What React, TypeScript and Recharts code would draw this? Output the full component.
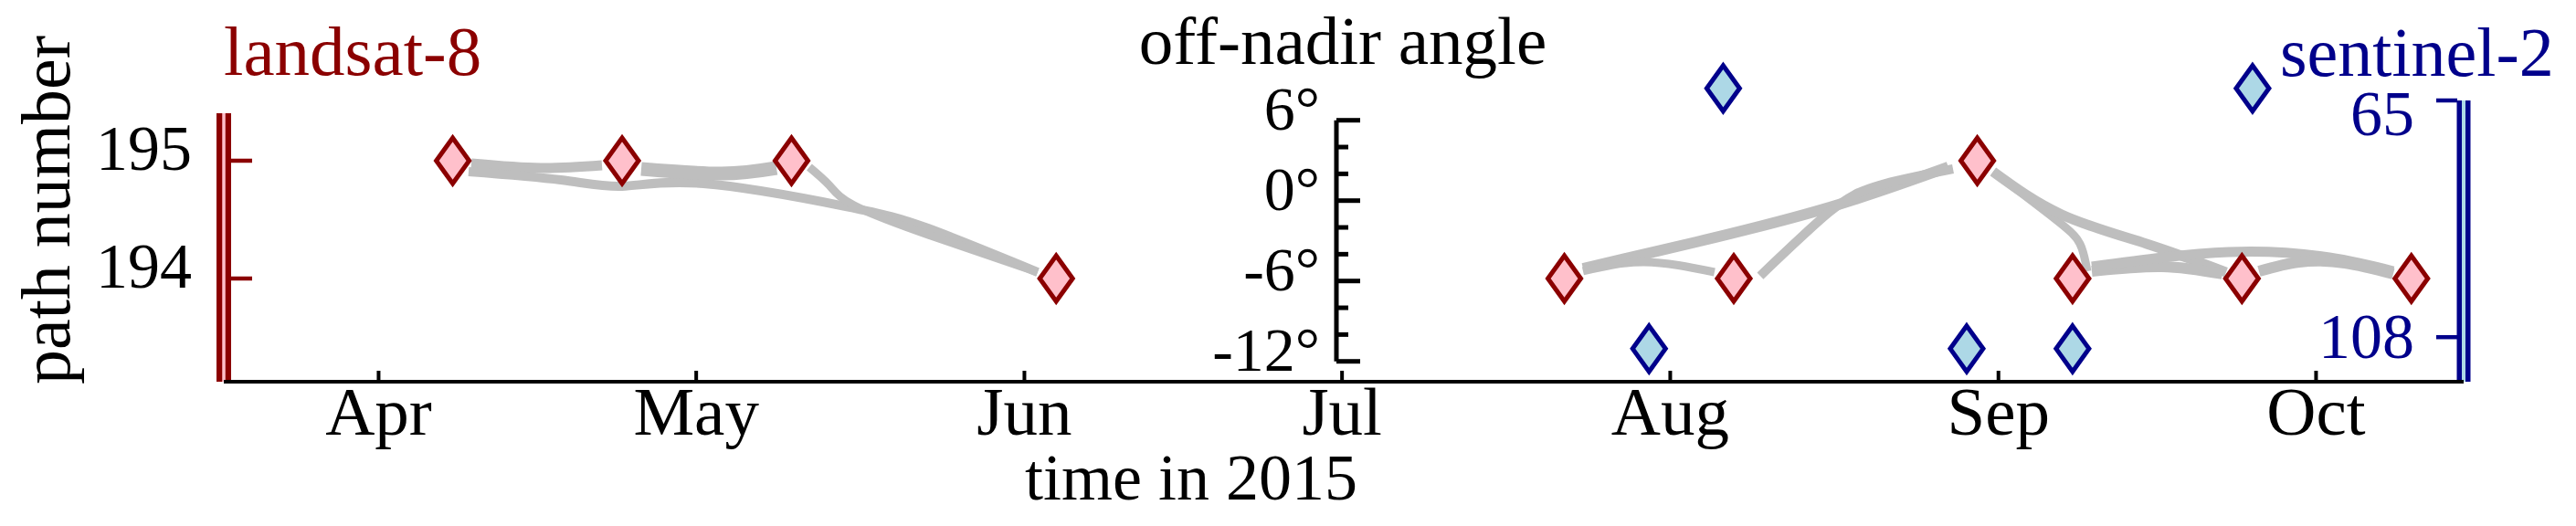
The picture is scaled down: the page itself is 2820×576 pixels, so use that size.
import React from 'react';
import { ComposedChart, Line, Scatter, XAxis, YAxis, ReferenceLine } from 'recharts';

const FONT = '"Liberation Serif", "Times New Roman", serif';
const DARK_RED = '#8b0000';
const PINK = '#ffc0cb';
const NAVY = '#00008b';
const LIGHT_BLUE = '#add8e6';
const GRAY = '#bebebe';

// days are counted from 1 April 2015
const ORIGIN = Date.UTC(2015, 3, 1);
const toDay = (s: string) => (Date.parse(s + 'T00:00:00Z') - ORIGIN) / 86400000;

const monthLabels = ['Apr', 'May', 'Jun', 'Jul', 'Aug', 'Sep', 'Oct'];
const monthStarts = ['2015-04-01', '2015-05-01', '2015-06-01', '2015-07-01', '2015-08-01', '2015-09-01', '2015-10-01'];
const xDomain: [number, number] = [-14.62, 196.94];

// landsat-8 acquisitions (path number)
const landsatDates = [
  '2015-04-08', '2015-04-24', '2015-05-10', '2015-06-04', '2015-07-22',
  '2015-08-07', '2015-08-30', '2015-09-08', '2015-09-24', '2015-10-10',
];
const landsatPath = [195, 195, 195, 194, 194, 194, 195, 194, 194, 194];

// sentinel-2 acquisitions (position on the orbit axis, as drawn)
const sentinelDates = ['2015-07-30', '2015-08-06', '2015-08-29', '2015-09-08', '2015-09-25'];
const sentinelOrbit = [110.1, 62.8, 110.1, 110.1, 62.8];

const pathTicks = [195, 194];
const pathDomain: [number, number] = [193.124, 195.899];
const orbitTicks = [65, 108];
const orbitDomain: [number, number] = [56.705, 116.096];
const angleTicks = [6, 4, 2, 0, -2, -4, -6, -8, -10, -12];
const angleDomain: [number, number] = [-12, 6];

// gray links between acquisitions: [day, path] points along each curve, with stroke width
const links: { w: number; pts: number[][] }[] = [
  { w: 11, pts: [[8.76, 194.977], [15.31, 194.938], [21.1, 194.961]] },
  { w: 10, pts: [[8.5, 194.907], [17.21, 194.837], [23.0, 194.783], [30.67, 194.806], [44.13, 194.612], [51.9, 194.426], [62.25, 194.054]] },
  { w: 15, pts: [[24.81, 194.93], [32.4, 194.891], [37.58, 194.938]] },
  { w: 9, pts: [[40.68, 194.946], [42.58, 194.791], [44.91, 194.62], [51.9, 194.372], [62.25, 194.054]] },
  { w: 12, pts: [[113.76, 194.085], [124.46, 194.31], [137.06, 194.605], [148.27, 194.946]] },
  { w: 9, pts: [[113.76, 194.062], [119.54, 194.14], [126.18, 194.054]] },
  { w: 10, pts: [[130.5, 194.023], [137.06, 194.566], [141.72, 194.791], [148.71, 194.93]] },
  { w: 9, pts: [[152.5, 194.907], [158.37, 194.504], [160.7, 194.295], [161.39, 194.062]] },
  { w: 11, pts: [[152.5, 194.907], [158.97, 194.543], [166.99, 194.295], [174.5, 194.054]] },
  { w: 12, pts: [[161.82, 194.062], [168.46, 194.101], [174.15, 194.039]] },
  { w: 11, pts: [[161.82, 194.101], [174.76, 194.225], [184.25, 194.178], [190.29, 194.062]] },
  { w: 12, pts: [[177.61, 194.062], [181.41, 194.14], [185.72, 194.132], [190.29, 194.039]] },
];

const landsatData = landsatDates.map((d, i) => ({ t: toDay(d), v: landsatPath[i] }));
const sentinelData = sentinelDates.map((d, i) => ({ t: toDay(d), v: sentinelOrbit[i] }));
const linkData = links.map((l) => l.pts.map(([t, v]) => ({ t, v })));
const monthTicks = monthStarts.map(toDay);

const diamond = (fill: string, stroke: string) => (props: any) => {
  const { cx, cy } = props;
  const pts = `${cx},${cy - 25} ${cx + 18},${cy} ${cx},${cy + 25} ${cx - 18},${cy}`;
  return <polygon points={pts} fill={fill} stroke={stroke} strokeWidth={5} strokeLinejoin="miter" />;
};

const MonthTick = (props: any) => {
  const { x, y, payload } = props;
  const idx = monthTicks.indexOf(payload.value);
  return (
    <g>
      <line x1={x} y1={y} x2={x} y2={y - 12} stroke="#000" strokeWidth={4} />
      <text x={x} y={y + 58} textAnchor="middle" fontSize={75} fontFamily={FONT} fill="#000">
        {monthLabels[idx]}
      </text>
    </g>
  );
};

const PathTick = (props: any) => {
  const { x, y, payload } = props;
  return (
    <g>
      <line x1={x + 8} y1={y} x2={x + 31} y2={y} stroke={DARK_RED} strokeWidth={4.5} />
      <text x={x - 35} y={y + 10} textAnchor="end" fontSize={70} fontFamily={FONT} fill="#000">
        {payload.value}
      </text>
    </g>
  );
};

const OrbitTick = (props: any) => {
  const { x, y, payload } = props;
  const dy = payload.value === 65 ? 38 : 23;
  return (
    <g>
      <line x1={x - 30} y1={y} x2={x - 7} y2={y} stroke={NAVY} strokeWidth={4.5} />
      <text x={x - 54} y={y + dy} textAnchor="end" fontSize={70} fontFamily={FONT} fill={NAVY}>
        {payload.value}
      </text>
    </g>
  );
};

const AngleTick = (props: any) => {
  const { x, y, payload } = props;
  const major = payload.value % 6 === 0;
  return (
    <g>
      <line x1={x} y1={y} x2={x + (major ? 26 : 13)} y2={y} stroke="#000" strokeWidth={5} />
      {major && (
        <text x={x - 18} y={y + 10} textAnchor="end" fontSize={68} fontFamily={FONT} fill="#000">
          {`${payload.value}°`}
        </text>
      )}
    </g>
  );
};

const App = () => {
  return (
    <div style={{ position: 'absolute', left: 0, top: 0, width: 2820, height: 576, background: '#fff' }}>
      <div style={{ position: 'absolute', left: 0, top: 0 }}>
        <ComposedChart width={2820} height={576} margin={{ top: 60, right: 0, bottom: 0, left: 0 }}>
          <XAxis
            type="number"
            dataKey="t"
            domain={xDomain}
            ticks={monthTicks}
            interval={0}
            tick={<MonthTick />}
            tickSize={0}
            tickMargin={0}
            tickLine={false}
            axisLine={{ stroke: '#000', strokeWidth: 4 }}
            height={158}
          />
          <YAxis
            yAxisId="path"
            type="number"
            domain={pathDomain}
            ticks={pathTicks}
            interval={0}
            tick={<PathTick />}
            tickSize={0}
            tickMargin={0}
            tickLine={false}
            axisLine={false}
            width={245}
          />
          <YAxis
            yAxisId="orbit"
            orientation="right"
            type="number"
            reversed
            domain={orbitDomain}
            ticks={orbitTicks}
            interval={0}
            tick={<OrbitTick />}
            tickSize={0}
            tickMargin={0}
            tickLine={false}
            axisLine={false}
            width={123}
          />
          <ReferenceLine
            yAxisId="path"
            ifOverflow="visible"
            segment={[{ x: xDomain[0], y: 195.403 }, { x: xDomain[0], y: pathDomain[0] }]}
            stroke={DARK_RED}
            strokeWidth={16}
          />
          <ReferenceLine
            yAxisId="path"
            ifOverflow="visible"
            segment={[{ x: xDomain[0], y: 195.403 }, { x: xDomain[0], y: pathDomain[0] }]}
            stroke={PINK}
            strokeWidth={3.5}
          />
          <ReferenceLine
            yAxisId="orbit"
            ifOverflow="visible"
            segment={[{ x: xDomain[1], y: 65 }, { x: xDomain[1], y: orbitDomain[1] }]}
            stroke={NAVY}
            strokeWidth={15}
          />
          <ReferenceLine
            yAxisId="orbit"
            ifOverflow="visible"
            segment={[{ x: xDomain[1], y: 65 }, { x: xDomain[1], y: orbitDomain[1] }]}
            stroke={LIGHT_BLUE}
            strokeWidth={4}
          />
          {linkData.map((d, i) => (
            <Line
              key={'link' + i}
              yAxisId="path"
              data={d}
              dataKey="v"
              type="natural"
              stroke={GRAY}
              strokeWidth={links[i].w}
              strokeLinecap="butt"
              dot={false}
              activeDot={false}
              isAnimationActive={false}
            />
          ))}
          <Scatter
            yAxisId="path"
            data={landsatData}
            dataKey="v"
            shape={diamond(PINK, DARK_RED)}
            isAnimationActive={false}
          />
          <Scatter
            yAxisId="orbit"
            data={sentinelData}
            dataKey="v"
            shape={diamond(LIGHT_BLUE, NAVY)}
            isAnimationActive={false}
          />
        </ComposedChart>
      </div>
      <div style={{ position: 'absolute', left: 1263, top: 0 }}>
        <ComposedChart
          width={300}
          height={576}
          data={[{ t: 0 }, { t: 1 }]}
          margin={{ top: 131.7, right: 0, bottom: 180.3, left: 0 }}
        >
          <XAxis type="number" dataKey="t" domain={[0, 1]} allowDataOverflow hide />
          <YAxis
            type="number"
            domain={angleDomain}
            allowDataOverflow
            ticks={angleTicks}
            interval={0}
            tick={<AngleTick />}
            tickSize={0}
            tickMargin={0}
            tickLine={false}
            axisLine={{ stroke: '#000', strokeWidth: 5 }}
            width={200}
          />
        </ComposedChart>
      </div>
      <svg
        width={2820}
        height={576}
        style={{ position: 'absolute', left: 0, top: 0, pointerEvents: 'none' }}
        fontFamily={FONT}
      >
        <text x={245} y={82} fontSize={77} fill={DARK_RED}>landsat-8</text>
        <text x={1470} y={70} fontSize={75} textAnchor="middle" fill="#000">off-nadir angle</text>
        <text x={2496} y={83} fontSize={76} fill={NAVY}>sentinel-2</text>
        <text x={1304} y={547} fontSize={72} textAnchor="middle" fill="#000">time in 2015</text>
        <text x={76} y={230} fontSize={76} textAnchor="middle" fill="#000" transform="rotate(-90 76 230)">
          path number
        </text>
      </svg>
    </div>
  );
};

export default App;
